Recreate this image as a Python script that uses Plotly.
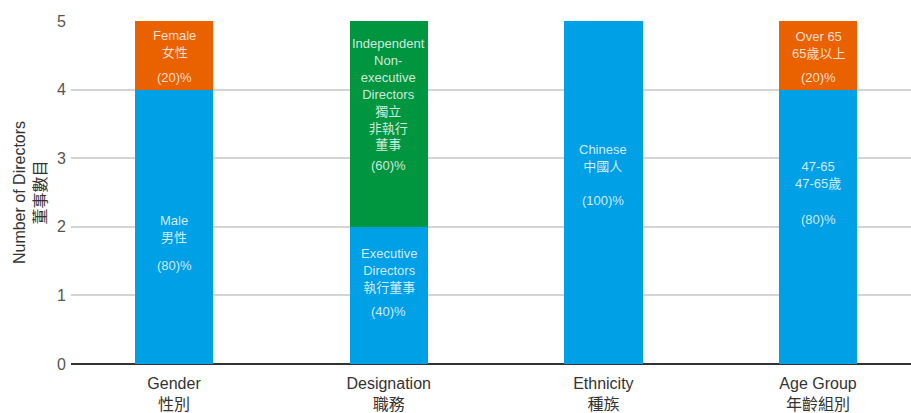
import plotly.graph_objects as go

categories = ["Gender<br>性別", "Designation<br>職務", "Ethnicity<br>種族", "Age Group<br>年齡組別"]
bottom_values = [4, 2, 5, 4]
top_values = [1, 3, 0, 1]
bottom_colors = ["#00A0E6", "#00A0E6", "#00A0E6", "#00A0E6"]
top_colors = ["#EA6100", "#00963F", "#EA6100", "#EA6100"]

# segment labels
bottom_names = ["Male<br>男性", "Executive<br>Directors<br>執行董事", "Chinese<br>中國人", "47-65<br>47-65歲"]
bottom_pcts = ["(80)%", "(40)%", "(100)%", "(80)%"]
top_names = ["Female<br>女性", "Independent<br>Non-<br>executive<br>Directors<br>獨立<br>非執行<br>董事", "", "Over 65<br>65歲以上"]
top_pcts = ["(20)%", "(60)%", "", "(20)%"]

# label placement (data units)
bottom_name_y = [1.97, 1.37, 3.01, 2.76]
bottom_pct_y = [1.44, 0.76, 2.39, 2.10]
top_name_y = [4.67, 3.93, None, 4.65]
top_pct_y = [4.17, 2.89, None, 4.18]

FONT = "Liberation Sans, Noto Sans CJK TC, sans-serif"
LABEL_COLOR = "rgba(255,255,255,0.82)"

fig = go.Figure()
fig.add_trace(go.Bar(x=categories, y=bottom_values, marker=dict(color=bottom_colors, line=dict(width=0)),
                     width=0.365, showlegend=False, hoverinfo="skip"))
fig.add_trace(go.Bar(x=categories, y=top_values, marker=dict(color=top_colors, line=dict(width=0)),
                     width=0.365, showlegend=False, hoverinfo="skip"))

annotations = []
for i, c in enumerate(categories):
    for names, ys in ((bottom_names, bottom_name_y), (top_names, top_name_y),
                      (bottom_pcts, bottom_pct_y), (top_pcts, top_pct_y)):
        if names[i] and ys[i] is not None:
            annotations.append(dict(x=c, y=ys[i], text=names[i], showarrow=False,
                                    font=dict(family=FONT, size=13, color=LABEL_COLOR),
                                    xanchor="center", yanchor="middle", align="center"))

fig.update_layout(
    width=911, height=413,
    margin=dict(l=71, r=0, t=21, b=49, autoexpand=False),
    paper_bgcolor="white", plot_bgcolor="white",
    barmode="stack",
    annotations=annotations,
    font=dict(family=FONT),
    xaxis=dict(range=[-0.48, 3.433], showgrid=False, showline=False, zeroline=False, automargin=False,
               ticks="", tickfont=dict(size=16, color="#333333"), ticklabelstandoff=8, fixedrange=True),
    yaxis=dict(range=[0, 5], tickvals=[0, 1, 2, 3, 4, 5], showgrid=True, gridcolor="#D4D4D4", gridwidth=1.5,
               zeroline=True, zerolinecolor="#333333", zerolinewidth=1.5, ticks="", automargin=False,
               tickfont=dict(size=16, color="#555555"), ticklabelstandoff=4,
               title=dict(text="Number of Directors<br>董事數目", font=dict(size=16, color="#333333"), standoff=6)),
)

fig.write_html("out.html", config={"displayModeBar": False},
               post_script="document.body.style.margin='0px';")
